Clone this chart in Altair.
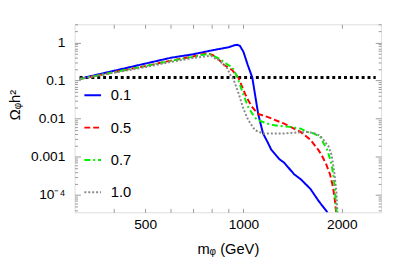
import altair as alt
import pandas as pd

# ---- data ----
series_names = ["0.1", "0.5", "0.7", "1.0"]
series_colors = ["#0000ff", "#ff0000", "#00ee00", "#888888"]
series_dash = [[1, 0], [6, 3], [6, 3, 2, 3], [2, 2]]

m_01 = [315, 400, 500, 600, 700, 800, 900, 940, 955, 975, 1000, 1030, 1064, 1084, 1109, 1135, 1148, 1189, 1216, 1289, 1333, 1428, 1496, 1603, 1697, 1798, 1850]
o_01 = [0.112, 0.18, 0.279, 0.398, 0.49, 0.62, 0.75, 0.85, 0.87, 0.82, 0.565, 0.26, 0.12, 0.045, 0.0134, 0.006, 0.0041, 0.0023, 0.00154, 0.00086, 0.0007, 0.00035, 0.00026, 0.000144, 0.00007, 0.000037, 0.000022]

m_05 = [315, 400, 500, 600, 700, 777, 822, 871, 923, 966, 990, 1012, 1035, 1060, 1084, 1109, 1189, 1333, 1496, 1603, 1697, 1736, 1790, 1840, 1880, 1905, 1925, 1945]
o_05 = [0.11, 0.165, 0.24, 0.335, 0.43, 0.53, 0.43, 0.26, 0.19, 0.117, 0.07, 0.044, 0.03, 0.021, 0.0165, 0.0134, 0.011, 0.0074, 0.0045, 0.0028, 0.0015, 0.0011, 0.00065, 0.00035, 0.00016, 0.00007, 0.00003, 0.00001]

m_07 = [315, 400, 500, 600, 700, 768, 786, 842, 902, 923, 955, 977, 990, 1035, 1080, 1109, 1189, 1244, 1389, 1496, 1567, 1640, 1717, 1757, 1800, 1840, 1862, 1890, 1910, 1930, 1950]
o_07 = [0.11, 0.165, 0.24, 0.33, 0.42, 0.49, 0.5, 0.38, 0.25, 0.23, 0.129, 0.075, 0.053, 0.0198, 0.011, 0.0091, 0.0074, 0.0067, 0.0061, 0.0055, 0.0045, 0.0041, 0.0033, 0.0023, 0.0016, 0.0009, 0.0006, 0.00028, 0.0001, 0.00003, 0.00001]

m_10 = [315, 400, 500, 600, 700, 786, 805, 822, 842, 892, 912, 933, 966, 1000, 1035, 1084, 1148, 1189, 1333, 1428, 1567, 1640, 1717, 1757, 1820, 1862, 1896, 1925, 1940, 1955]
o_10 = [0.11, 0.16, 0.225, 0.31, 0.39, 0.445, 0.43, 0.37, 0.34, 0.21, 0.14, 0.106, 0.046, 0.018, 0.0091, 0.005, 0.0041, 0.0041, 0.0041, 0.0043, 0.0045, 0.0042, 0.0036, 0.0028, 0.0019, 0.0011, 0.0004, 0.00012, 0.000035, 0.00001]

relic_m = [315, 2540]
relic_value = 0.12

x_label_values = [500, 1000, 2000]
x_tick_values = [400, 500, 600, 700, 800, 900, 1000, 2000]
y_major_values = [1, 0.1, 0.01, 0.001, 0.0001]
y_minor_values = [m * 10.0 ** e for e in range(-5, 1) for m in range(2, 10)]

# ---- build tables ----
rows = []
for name, ms, os_ in [("0.1", m_01, o_01), ("0.5", m_05, o_05), ("0.7", m_07, o_07), ("1.0", m_10, o_10)]:
    for i, (m, o) in enumerate(zip(ms, os_)):
        rows.append({"series": name, "m": m, "omega": o, "idx": i})
df = pd.DataFrame(rows)
hl = pd.DataFrame({"m": relic_m, "omega": [relic_value] * len(relic_m)})

xscale = alt.Scale(type="log", domain=[304, 2638])
yscale = alt.Scale(type="log", domain=[3.5e-5, 3.0])
FONT = "Liberation Sans"
FRAME = "#9a9a9a"

lines = alt.Chart(df).mark_line(strokeWidth=2, clip=True).encode(
    x=alt.X("m:Q", scale=xscale, axis=alt.Axis(
        orient="bottom", values=x_label_values, ticks=False, domain=False, grid=False,
        labelFont=FONT, labelFontSize=14, labelColor="black", labelPadding=6,
        labelExpr="format(datum.value, 'd')",
        title="mᵩ (GeV)", titleFont=FONT, titleFontSize=15, titleFontWeight="normal",
        titleColor="black", titleBaseline="alphabetic", titleY=42)),
    y=alt.Y("omega:Q", scale=yscale, axis=alt.Axis(
        orient="left", values=y_major_values, ticks=False, domain=False, grid=False,
        labelFont=FONT, labelFontSize=14, labelColor="black", labelPadding=10,
        labelExpr="datum.value < 0.0005 ? '10⁻⁴' : format(datum.value, '~g')",
        title="Ωᵩh²", titleFont=FONT, titleFontSize=15, titleFontWeight="normal",
        titleColor="black", titleBaseline="alphabetic", titleX=-56, titleY=82, titleAngle=270)),
    color=alt.Color("series:N", scale=alt.Scale(domain=series_names, range=series_colors),
                    legend=alt.Legend(title=None, orient="none", legendX=9, legendY=63,
                                      symbolType="stroke", symbolSize=289, symbolStrokeWidth=2,
                                      labelFont=FONT, labelFontSize=15, labelColor="black",
                                      labelOffset=9, rowPadding=15, padding=0)),
    strokeDash=alt.StrokeDash("series:N", scale=alt.Scale(domain=series_names, range=series_dash)),
    order="idx:Q",
)

relic = alt.Chart(hl).mark_line(color="black", strokeWidth=3, strokeDash=[3, 3]).encode(
    x=alt.X("m:Q", scale=xscale, axis=alt.Axis(
        orient="bottom", values=x_tick_values, labels=False, domain=False, grid=False,
        tickSize=4, offset=-4, tickColor=FRAME, title="")),
    y=alt.Y("omega:Q", scale=yscale, axis=alt.Axis(
        orient="left", values=y_major_values, labels=False, domain=False, grid=False,
        tickSize=6, offset=-6, tickColor=FRAME, title="")),
)

def ghost(xaxis, yaxis):
    return alt.Chart(hl).mark_point(opacity=0).encode(
        x=alt.X("m:Q", scale=xscale, axis=xaxis),
        y=alt.Y("omega:Q", scale=yscale, axis=yaxis),
    )

g1 = ghost(
    alt.Axis(orient="top", values=x_tick_values, labels=False, domain=False, grid=False,
             tickSize=4, offset=-4, tickColor=FRAME, title=""),
    alt.Axis(orient="left", values=y_minor_values, labels=False, domain=False, grid=False,
             tickSize=3, offset=-3, tickColor=FRAME, title=""),
)
g2 = ghost(
    alt.Axis(orient="top", values=x_label_values, labels=False, domain=False, grid=False,
             tickSize=0, tickColor=FRAME, title=""),
    alt.Axis(orient="right", values=y_major_values, labels=False, domain=False, grid=False,
             tickSize=6, offset=-6, tickColor=FRAME, title=""),
)
g3 = ghost(
    alt.Axis(orient="bottom", values=x_label_values, labels=False, domain=False, grid=False,
             tickSize=0, tickColor=FRAME, title=""),
    alt.Axis(orient="right", values=y_minor_values, labels=False, domain=False, grid=False,
             tickSize=3, offset=-3, tickColor=FRAME, title=""),
)

chart = alt.layer(relic, lines, g1, g2, g3).resolve_axis(
    x="independent", y="independent"
).properties(
    width=313, height=192,
    autosize=alt.AutoSizeParams(type="none"),
    padding={"left": 68, "top": 14, "right": 4, "bottom": 44},
).configure_view(stroke=FRAME, strokeWidth=1).configure(background="white")

chart.save("out.html", embed_options={"renderer": "svg", "actions": False})
